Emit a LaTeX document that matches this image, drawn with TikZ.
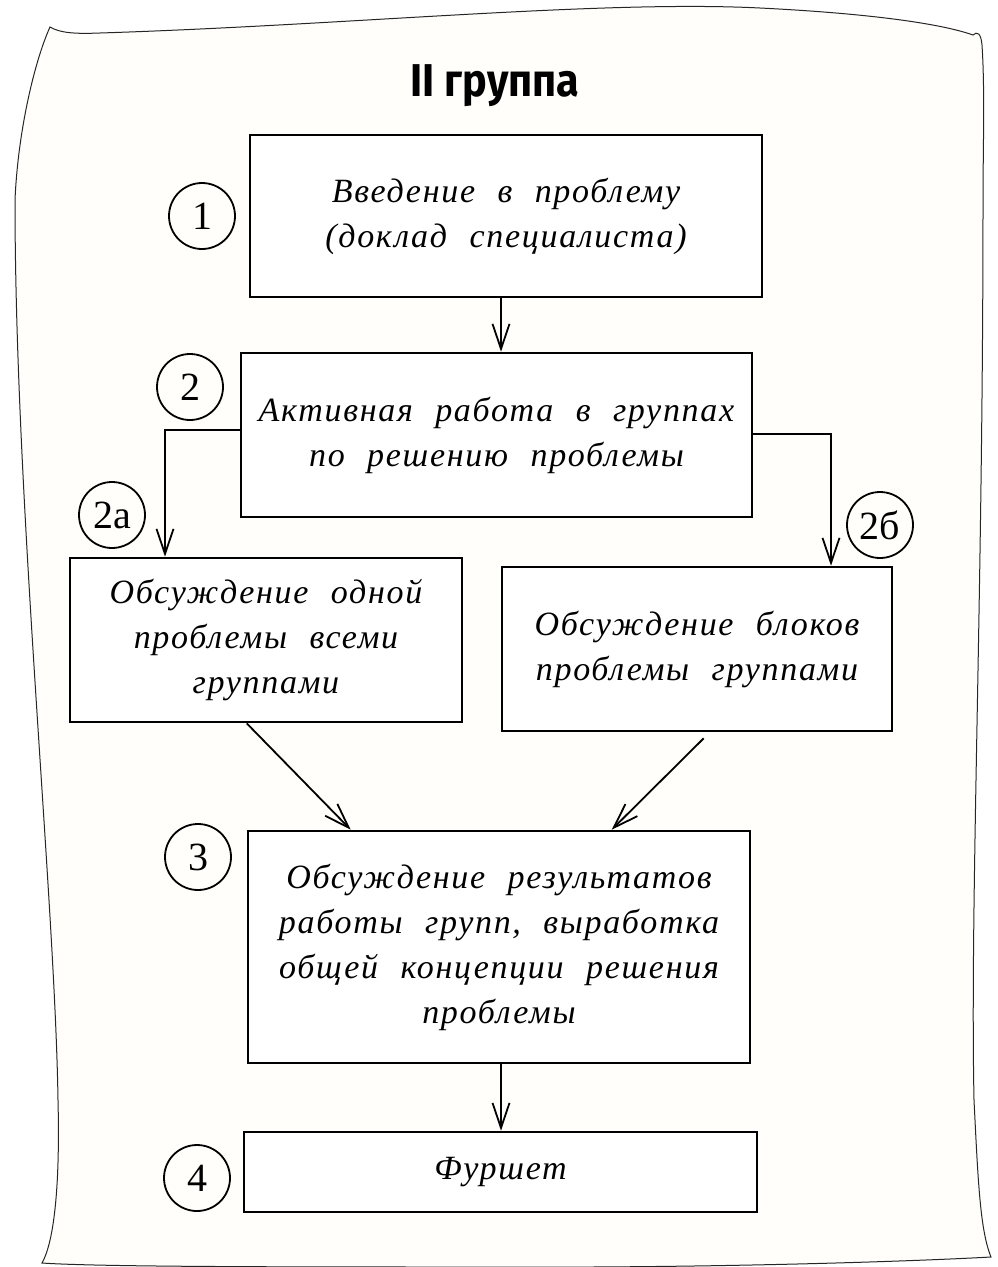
\documentclass[tikz,border=0pt]{standalone}
\usepackage{fontspec}
\setmainfont{Liberation Serif}
\newfontfamily\hand{Liberation Serif}[LetterSpace=5,WordSpace=2.2]
\newfontfamily\titlef{Fira Sans}[FakeStretch=0.9]
\usetikzlibrary{arrows.meta}
\definecolor{paper}{HTML}{FFFEFA}
\tikzset{
  paperedge/.style={draw=black!85, line width=1pt, fill=paper},
  stepbox/.style={draw=black, line width=2.6pt, fill=white, rectangle, align=center, inner sep=0pt,
    font={\hand\itshape\fontsize{34}{45}\selectfont}},
  numcirc/.style={draw=black, line width=1.8pt, circle, minimum size=66pt, inner sep=0pt,
    font={\fontsize{40}{40}\selectfont}},
  arr/.style={line width=1.8pt, -{Straight Barb[length=25pt,width=17pt,line width=1.8pt]}},
}
\begin{document}
\begin{tikzpicture}[x=1pt,y=-1pt]
\useasboundingbox (0,0) rectangle (998,1267);
% paper sheet
\path[paperedge] (50,27) .. controls (60,33) and (75,34) .. (100,33)
 .. controls (350,25) and (600,0) .. (760,8)
 .. controls (880,14) and (945,25) .. (973,35)
 .. controls (977,31) and (981,33) .. (982,45)
 .. controls (985,90) and (983,150) .. (983,200)
 .. controls (983,600) and (970,900) .. (974,1100)
 .. controls (978,1180) and (980,1230) .. (991,1257)
 .. controls (900,1262) and (700,1268) .. (500,1267)
 .. controls (300,1267) and (100,1267) .. (42,1263)
 .. controls (55,1240) and (60,1180) .. (58,1100)
 .. controls (55,900) and (15,500) .. (15,200)
 .. controls (18,130) and (35,60) .. (50,27) -- cycle;
% title
\node[font={\titlef\bfseries\fontsize{46}{46}\selectfont}] (title) at (495,86) {II группа};
% boxes
\node[stepbox, minimum width=512pt, minimum height=162pt] (b1) at (506,216) {Введение в проблему\\(доклад специалиста)};
\node[stepbox, minimum width=511pt, minimum height=164pt] (b2) at (496.5,435) {Активная работа в группах\\по решению проблемы};
\node[stepbox, minimum width=392pt, minimum height=164pt] (b2a) at (266,640) {Обсуждение одной\\проблемы всеми\\группами};
\node[stepbox, minimum width=390pt, minimum height=164pt] (b2b) at (697,649) {Обсуждение блоков\\проблемы группами};
\node[stepbox, minimum width=502pt, minimum height=232pt] (b3) at (499,947) {Обсуждение результатов\\работы групп, выработка\\общей концепции решения\\проблемы};
\node[stepbox, minimum width=513pt, minimum height=80pt] (b4) at (500.5,1172) {Фуршет};
% numbers
\node[numcirc] (n1) at (202,216) {1};
\node[numcirc] (n2) at (190,387) {2};
\node[numcirc] (n2a) at (112,515) {2a};
\node[numcirc] (n2b) at (880,525) {2б};
\node[numcirc] (n3) at (198,857) {3};
\node[numcirc] (n4) at (197,1178) {4};
% connectors
\coordinate (mid) at (501,0);
\coordinate (L) at (165,430);
\coordinate (R) at (831,434);
\draw[arr] (b1.south -| mid) -- (b2.north -| mid);
\draw[arr] (L -| b2.west) -- (L) -- (L |- b2a.north);
\draw[arr] (R -| b2.east) -- (R) -- (R |- b2b.north);
\draw[arr] ([xshift=178pt]b2a.south west) -- ([xshift=104pt]b3.north west);
\draw[arr] ([xshift=203pt,yshift=-6pt]b2b.south west) -- ([xshift=365pt]b3.north west);
\draw[arr] (b3.south -| mid) -- (b4.north -| mid);
\end{tikzpicture}
\end{document}
